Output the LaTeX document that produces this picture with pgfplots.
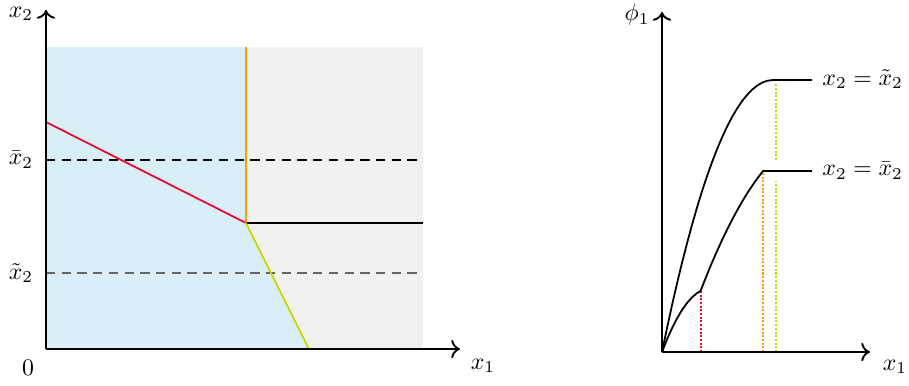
\documentclass[border=0pt]{standalone}
\usepackage{pgfplots}
\pgfplotsset{compat=1.18}
\usetikzlibrary{arrows.meta}

\definecolor{regblue}{RGB}{217,238,247}
\definecolor{reggray}{RGB}{241,241,241}
\definecolor{lred}{RGB}{232,12,42}
\definecolor{lorange}{RGB}{246,162,0}
\definecolor{lyellow}{RGB}{205,214,0}
\definecolor{dgray}{RGB}{100,100,100}

% 1 unit = 1 pixel of the reference
\pgfplotsset{
  panel/.style={
    x=0.42pt, y=0.42pt,
    axis lines=left,
    axis line style={thick, -{To[scale=1.1]}},
    xtick=\empty, ytick=\empty,
    clip=false,
    axis on top,
  },
  guide/.style={line width=0.85pt, dash pattern=on 0.85pt off 0.7pt},
}
\tikzset{lbl/.style={inner sep=0pt}}

\begin{document}
\begin{tikzpicture}
% page = 909 x 385 reference pixels, left origin at (46,349)
\useasboundingbox (-19.32pt,-15.12pt) rectangle (362.46pt,146.58pt);
% ---------------- left panel: regions in (x1,x2)
\begin{axis}[panel, xmin=0, xmax=414, ymin=0, ymax=339]
\addplot[draw=none, fill=reggray] coordinates {(0,0) (0,302) (377,302) (377,0)} -- cycle;
\addplot[draw=none, fill=regblue] coordinates {(0,0) (0,302) (200,302) (200,126) (263,0)} -- cycle;
\addplot[black, line width=0.5pt, dash pattern=on 3.9pt off 2.7pt] coordinates {(0,189) (377,189)};
\addplot[dgray, line width=0.5pt, dash pattern=on 3.9pt off 2.7pt] coordinates {(0,76) (377,76)};
\addplot[lred, line width=0.75pt] coordinates {(0,227) (200,126)};
\addplot[lorange, line width=0.75pt] coordinates {(200,302) (200,126)};
\addplot[black, line width=0.75pt] coordinates {(200,126) (377,126)};
\addplot[lyellow, line width=0.75pt] coordinates {(200,126) (263,0)};
\node[lbl] at (axis cs:-25,335) {$x_2$};
\node[lbl] at (axis cs:-25,189) {$\bar{x}_2$};
\node[lbl] at (axis cs:-25,76) {$\tilde{x}_2$};
\node[lbl] at (axis cs:-18,-19) {$0$};
\node[lbl] at (axis cs:437,-17) {$x_1$};
\end{axis}

% ---------------- right panel: phi_1 against x1
\begin{axis}[panel, at={(258.72pt,-1.26pt)}, xmin=0, xmax=208, ymin=0, ymax=340]
\addplot[lred, guide] coordinates {(38.5,0) (38.5,61)};
\addplot[lorange, guide] coordinates {(101,0) (101,181)};
\addplot[lyellow, guide] coordinates {(114,0) (114,171)};
\addplot[lyellow, guide] coordinates {(114,192) (114,269)};
% x2 = tilde x2
\addplot[black, line width=0.75pt] coordinates {
  (0,0) (5,23.9) (10,46.8) (15,68.5) (20,89.2) (25,108.7) (30,127.1)
  (35,144.5) (40,160.7) (45,175.8) (50,189.8) (55,202.7) (60,214.5)
  (65,225.3) (70,234.9) (75,243.4) (80,250.8) (85,257.0) (90,262.2)
  (95,266.3) (100,269.3) (105,271.2) (111,272) (150,272)};
% x2 = bar x2
\addplot[black, line width=0.75pt] coordinates {
  (0,0) (5,12.6) (10,23.8) (15,33.6) (20,42.0) (25,49.0) (30,54.6)
  (35,58.9) (38.5,61)
  (45,77.4) (50,89.5) (55,100.9) (60,111.9) (65,122.3) (70,132.1)
  (75,141.4) (80,150.2) (85,158.4) (90,166.0) (95,173.2) (101,181)
  (150,181)};
\node[lbl] at (axis cs:-25,337) {$\phi_1$};
\node[lbl] at (axis cs:233,-15) {$x_1$};
\node[lbl, anchor=west] at (axis cs:160,273) {$x_2 = \tilde{x}_2$};
\node[lbl, anchor=west] at (axis cs:160,181) {$x_2 = \bar{x}_2$};
\end{axis}
\end{tikzpicture}
\end{document}
